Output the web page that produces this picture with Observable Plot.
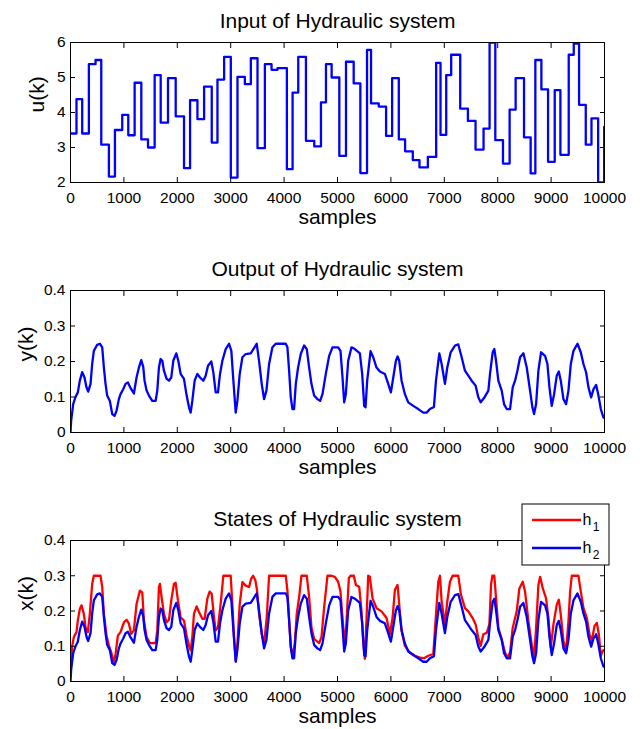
<!DOCTYPE html>
<html><head><meta charset="utf-8">
<script src="https://cdn.jsdelivr.net/npm/d3@7"></script>
<script src="https://cdn.jsdelivr.net/npm/@observablehq/plot@0.6"></script>
<style>
body{margin:0;background:#fff;width:640px;height:729px;position:relative;overflow:hidden;font-family:"Liberation Sans",Arial,sans-serif}
.panel{position:absolute;left:0}
</style></head><body>
<div id="p1" class="panel" style="top:0px"></div>
<div id="p2" class="panel" style="top:240px"></div>
<div id="p3" class="panel" style="top:490px"></div>
<script>
// ---------- data ----------
const xTicks = [0,1000,2000,3000,4000,5000,6000,7000,8000,9000,10000];
const uTicks = [2,3,4,5,6];
const yTicks = [0,0.1,0.2,0.3,0.4];

const uSamples = [0,112,219,344,469,576,719,832,969,1082,1201,1326,1451,1576,1689,1826,1970,2126,2239,2377,2502,2645,2752,2877,3002,3127,3265,3377,3502,3640,3765,3877,4052,4159,4265,4409,4565,4690,4784,4890,5034,5159,5303,5428,5553,5628,5772,5910,6023,6148,6266,6410,6535,6692,6848,6929,7036,7129,7298,7442,7585,7735,7848,7955,8099,8223,8336,8493,8617,8705,8818,8943,9068,9174,9330,9424,9524,9649,9756,9881,9994,10000];
const uValues = [3.4,4.38,3.4,5.38,5.5,3.08,2.17,3.5,3.93,3.35,4.85,3.23,3.0,5.07,3.71,4.98,3.89,2.41,4.35,3.81,4.74,3.14,4.94,5.59,2.14,5.02,4.81,5.55,2.98,5.38,5.22,5.27,2.38,4.57,5.59,3.19,3.03,4.29,5.38,5.0,2.76,5.45,4.83,2.27,5.79,4.26,4.17,3.33,4.98,3.23,2.89,2.64,2.43,2.73,5.42,3.36,5.07,5.65,4.11,3.76,2.94,3.54,6.0,3.21,2.54,4.08,4.98,3.29,2.26,5.5,4.66,2.59,4.64,2.79,5.65,5.97,4.22,3.08,3.83,2.0,3.59,3.59];

const h2Samples = [0,12,50,94,137,175,219,262,300,331,375,406,437,500,550,594,625,656,687,737,781,825,862,906,937,987,1031,1075,1125,1187,1237,1281,1325,1362,1387,1425,1469,1531,1594,1625,1656,1687,1719,1750,1800,1844,1887,1925,1981,2019,2062,2125,2175,2219,2250,2281,2325,2375,2425,2487,2531,2575,2637,2675,2719,2762,2800,2844,2906,2969,3012,3050,3094,3125,3169,3219,3281,3375,3425,3487,3531,3581,3625,3669,3719,3781,3844,4031,4062,4094,4125,4156,4187,4219,4262,4312,4375,4425,4469,4512,4562,4625,4675,4719,4781,4844,4906,5012,5056,5094,5125,5156,5200,5262,5325,5419,5462,5500,5525,5556,5619,5669,5731,5794,5887,5950,6000,6044,6094,6125,6156,6200,6262,6325,6419,6512,6606,6669,6731,6806,6844,6906,6950,7012,7056,7119,7200,7262,7325,7387,7450,7512,7587,7637,7681,7744,7825,7856,7906,7937,7969,8012,8075,8119,8169,8231,8281,8325,8369,8419,8481,8544,8606,8650,8681,8719,8762,8812,8887,8931,8969,9012,9056,9106,9144,9181,9231,9281,9325,9369,9419,9494,9556,9606,9656,9700,9750,9794,9844,9887,9931,9981,10000];
const h2Values = [0,0.033,0.08,0.1,0.113,0.146,0.17,0.155,0.127,0.115,0.137,0.193,0.23,0.247,0.25,0.24,0.183,0.137,0.104,0.089,0.052,0.047,0.061,0.094,0.108,0.122,0.137,0.141,0.125,0.11,0.155,0.183,0.204,0.185,0.146,0.118,0.104,0.089,0.089,0.118,0.183,0.207,0.202,0.174,0.151,0.146,0.155,0.202,0.223,0.202,0.165,0.151,0.104,0.071,0.056,0.089,0.146,0.165,0.155,0.146,0.16,0.188,0.2,0.169,0.113,0.113,0.165,0.202,0.235,0.25,0.23,0.146,0.056,0.089,0.165,0.212,0.221,0.223,0.235,0.25,0.202,0.137,0.094,0.118,0.193,0.24,0.25,0.25,0.24,0.174,0.099,0.066,0.066,0.137,0.183,0.221,0.245,0.235,0.183,0.137,0.104,0.094,0.089,0.108,0.165,0.216,0.24,0.24,0.23,0.155,0.085,0.108,0.202,0.24,0.235,0.223,0.165,0.075,0.071,0.146,0.229,0.212,0.183,0.172,0.165,0.137,0.113,0.155,0.202,0.214,0.202,0.146,0.108,0.085,0.075,0.066,0.056,0.056,0.066,0.072,0.146,0.223,0.193,0.137,0.183,0.226,0.245,0.248,0.212,0.174,0.16,0.146,0.132,0.099,0.085,0.097,0.118,0.165,0.226,0.235,0.202,0.146,0.118,0.08,0.066,0.066,0.127,0.146,0.174,0.212,0.223,0.183,0.118,0.071,0.052,0.08,0.174,0.226,0.216,0.193,0.127,0.075,0.108,0.16,0.172,0.146,0.094,0.08,0.118,0.193,0.23,0.25,0.226,0.193,0.169,0.127,0.099,0.122,0.134,0.104,0.066,0.042,0.044];

const h1Samples = [0,31,62,112,137,175,206,250,281,325,362,406,437,562,594,625,675,719,762,812,844,887,937,1000,1050,1094,1137,1187,1237,1300,1344,1375,1425,1487,1594,1625,1656,1675,1706,1750,1800,1844,1887,1937,1969,2012,2062,2125,2175,2219,2250,2281,2312,2362,2406,2469,2512,2562,2606,2644,2687,2719,2762,2812,2862,3000,3031,3062,3094,3125,3169,3219,3281,3344,3381,3419,3462,3494,3531,3581,3625,3675,3719,4031,4062,4094,4125,4156,4200,4237,4281,4325,4425,4469,4512,4562,4656,4700,4750,4812,4887,4950,5012,5056,5094,5137,5169,5212,5244,5306,5344,5406,5450,5481,5512,5544,5575,5606,5656,5731,5825,5919,5981,6031,6075,6125,6156,6200,6262,6356,6450,6544,6619,6700,6794,6844,6887,6919,6950,7012,7056,7106,7156,7262,7312,7387,7450,7531,7587,7637,7681,7731,7794,7844,7875,7900,7937,7969,8012,8075,8137,8181,8231,8281,8356,8406,8469,8512,8575,8637,8681,8719,8762,8794,8844,8906,8950,8994,9044,9106,9144,9181,9231,9281,9325,9356,9387,9512,9556,9606,9669,9719,9762,9812,9856,9894,9931,9969,10000];
const h1Values = [0.04,0.1,0.126,0.14,0.173,0.206,0.216,0.192,0.154,0.14,0.192,0.277,0.3,0.3,0.268,0.192,0.13,0.102,0.083,0.055,0.078,0.13,0.14,0.168,0.175,0.164,0.135,0.145,0.22,0.258,0.253,0.173,0.126,0.109,0.109,0.145,0.268,0.277,0.239,0.192,0.168,0.175,0.23,0.277,0.28,0.23,0.182,0.173,0.13,0.102,0.088,0.126,0.192,0.213,0.197,0.178,0.178,0.235,0.255,0.249,0.182,0.145,0.154,0.22,0.3,0.3,0.22,0.126,0.06,0.107,0.22,0.282,0.272,0.268,0.291,0.3,0.287,0.258,0.192,0.135,0.107,0.182,0.3,0.3,0.258,0.173,0.097,0.074,0.107,0.192,0.239,0.3,0.3,0.239,0.154,0.121,0.109,0.126,0.211,0.3,0.3,0.297,0.283,0.255,0.18,0.1,0.171,0.293,0.3,0.3,0.274,0.269,0.199,0.115,0.064,0.18,0.3,0.297,0.236,0.208,0.199,0.18,0.134,0.18,0.26,0.274,0.218,0.143,0.101,0.082,0.073,0.068,0.066,0.073,0.078,0.19,0.283,0.3,0.227,0.162,0.227,0.283,0.3,0.3,0.246,0.208,0.199,0.18,0.162,0.124,0.101,0.134,0.138,0.162,0.274,0.3,0.3,0.236,0.152,0.12,0.082,0.068,0.082,0.152,0.199,0.264,0.283,0.255,0.171,0.106,0.068,0.152,0.274,0.297,0.264,0.236,0.18,0.096,0.162,0.218,0.232,0.19,0.115,0.087,0.171,0.255,0.3,0.3,0.255,0.208,0.18,0.134,0.115,0.157,0.166,0.134,0.073,0.087,0.09];

// output y(k) equals tank level h2
const ySamples = h2Samples, yValues = h2Values;

const BLUE = "#0000ff", RED = "#ff0000";
const FONT = '"Liberation Sans", Arial, Helvetica, sans-serif';

const toRows = (ks, vs) => ks.map((k, i) => ({k, v: vs[i]}));

function panel({lines, yDomain, yT, title, ylabel, labelDx, mt, fh, mb}) {
  return Plot.plot({
    width: 640, height: mt + fh + mb,
    marginLeft: 70, marginRight: 36, marginTop: mt, marginBottom: mb,
    style: {fontFamily: FONT, fontSize: "15.5px", background: "transparent", color: "black", overflow: "visible"},
    x: {domain: [0, 10000]},
    y: {domain: yDomain},
    marks: [
      ...lines,
      Plot.frame({stroke: "black", strokeWidth: 1}),
      Plot.axisX(xTicks, {anchor: "bottom", tickSize: -5, tickPadding: 14, tickFormat: d => String(d), fontSize: 15.5, label: null}),
      Plot.axisX(xTicks, {anchor: "top", tickSize: -5, tickFormat: () => "", label: null}),
      Plot.axisY(yT, {anchor: "left", tickSize: -5, tickPadding: 10, tickFormat: d => String(d), fontSize: 15.5, label: null}),
      Plot.axisY(yT, {anchor: "right", tickSize: -5, tickFormat: () => "", label: null}),
      Plot.text([title], {text: d => d, frameAnchor: "top", dy: -15, lineAnchor: "bottom", fontSize: 21}),
      Plot.text(["samples"], {text: d => d, frameAnchor: "bottom", dy: 41, lineAnchor: "bottom", fontSize: 21}),
      Plot.text([ylabel], {text: d => d, frameAnchor: "left", dx: labelDx, rotate: -90, lineAnchor: "middle", fontSize: 21})
    ]
  });
}

const p1 = panel({
  lines: [Plot.line(toRows(uSamples, uValues), {x: "k", y: "v", curve: "step-after", stroke: BLUE, strokeWidth: 2.3, clip: true})],
  yDomain: [2, 6], yT: uTicks, title: "Input of Hydraulic system", ylabel: "u(k)", labelDx: -33, mt: 42, fh: 140, mb: 50
});
document.getElementById("p1").appendChild(p1);

const p2 = panel({
  lines: [Plot.line(toRows(ySamples, yValues), {x: "k", y: "v", stroke: BLUE, strokeWidth: 2.3, clip: true})],
  yDomain: [0, 0.4], yT: yTicks, title: "Output of Hydraulic system", ylabel: "y(k)", labelDx: -44, mt: 50, fh: 142, mb: 50
});
document.getElementById("p2").appendChild(p2);

const p3 = panel({
  lines: [
    Plot.line(toRows(h1Samples, h1Values), {x: "k", y: "v", stroke: RED, strokeWidth: 2.3, clip: true}),
    Plot.line(toRows(h2Samples, h2Values), {x: "k", y: "v", stroke: BLUE, strokeWidth: 2.3, clip: true})
  ],
  yDomain: [0, 0.4], yT: yTicks, title: "States of Hydraulic system", ylabel: "x(k)", labelDx: -44, mt: 50, fh: 141, mb: 48
});
document.getElementById("p3").appendChild(p3);

// legend box
const legendItems = [{name: "h", sub: "1", color: RED}, {name: "h", sub: "2", color: BLUE}];
const svg3 = d3.select(p3);
const lg = svg3.append("g").attr("transform", "translate(522,14)");
lg.append("rect").attr("width", 87).attr("height", 61).attr("fill", "white").attr("stroke", "black").attr("stroke-width", 1);
legendItems.forEach((it, i) => {
  const cy = 16 + i * 28;
  lg.append("line").attr("x1", 10).attr("x2", 59).attr("y1", cy).attr("y2", cy).attr("stroke", it.color).attr("stroke-width", 2.3);
  lg.append("text").attr("x", 65).attr("y", cy + 5).attr("font-size", 16).attr("font-family", FONT).text(it.name);
  lg.append("text").attr("x", 74).attr("y", cy + 11).attr("font-size", 12).attr("font-family", FONT).text(it.sub);
});
</script>
</body></html>
